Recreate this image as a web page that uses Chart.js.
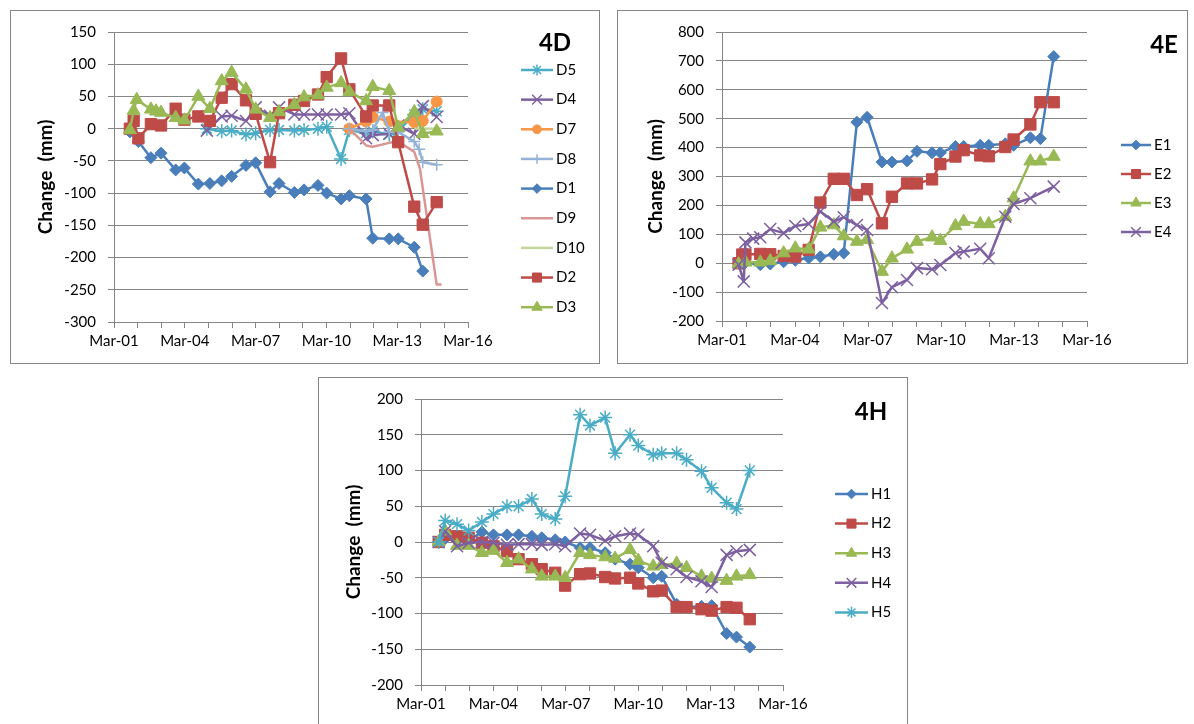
<!DOCTYPE html>
<html>
<head>
<meta charset="utf-8">
<script src="https://cdn.jsdelivr.net/npm/chart.js"></script>
<style>
html, body { margin: 0; padding: 0; background: #fff; width: 1194px; height: 724px; overflow: hidden; }
.panel { position: absolute; border: 1px solid #868686; box-sizing: border-box; background: #fff; overflow: hidden; }
.panel canvas { position: absolute; left: 0; top: 0; }
</style>
</head>
<body>
<div class="panel" style="left:10px;top:10px;width:590px;height:354px"><canvas id="c4d" width="588" height="352"></canvas></div>
<div class="panel" style="left:617px;top:10px;width:571px;height:354px"><canvas id="c4e" width="569" height="352"></canvas></div>
<div class="panel" style="left:318px;top:377px;width:590px;height:360px"><canvas id="c4h" width="588" height="358"></canvas></div>
<script>
// ---- panel 4D (dates as decimal years, values in mm) ----
const d5Dates = [2005.10, 2005.73, 2006.15, 2006.76, 2007.17, 2007.78, 2008.16, 2008.81, 2009.22, 2009.81, 2010.18, 2010.79, 2011.14, 2011.85, 2012.13, 2012.83, 2013.21, 2013.89, 2014.25, 2014.84];
const d5Values = [0, -4, -3, -9, -7, -2, -2, -3, -2, 0, 3, -47, -2, -7, -4, -9, -4, 22, 30, 27];
const d4Dates = [2005.10, 2005.73, 2006.15, 2006.76, 2007.17, 2007.78, 2008.16, 2008.81, 2009.22, 2009.81, 2010.18, 2010.79, 2011.14, 2011.85, 2012.13, 2012.83, 2013.21, 2013.89, 2014.25, 2014.84];
const d4Values = [-3, 19, 20, 12, 33, 20, 33, 22, 22, 22, 22, 22, 24, -15, -10, -8, 5, -8, 35, 18];
const d7Dates = [2011.14, 2011.85, 2012.13, 2012.83, 2013.89, 2014.25, 2014.84];
const d7Values = [0, 11, 18, 11, 10, 12, 42];
const d8Dates = [2011.14, 2011.85, 2012.13, 2012.55, 2012.83, 2013.21, 2013.89, 2014.10, 2014.25, 2014.84];
const d8Values = [0, -4, -2, 25, -5, -5, -20, -32, -52, -56];
const d1Dates = [2001.84, 2002.20, 2002.73, 2003.16, 2003.78, 2004.15, 2004.74, 2005.23, 2005.73, 2006.15, 2006.76, 2007.17, 2007.78, 2008.16, 2008.81, 2009.22, 2009.81, 2010.18, 2010.79, 2011.14, 2011.85, 2012.13, 2012.83, 2013.21, 2013.89, 2014.25];
const d1Values = [-5, -20, -45, -38, -64, -61, -86, -85, -81, -74, -57, -53, -98, -85, -99, -95, -88, -100, -109, -104, -109, -170, -171, -171, -184, -221];
const d9Dates = [2011.14, 2011.85, 2012.13, 2012.83, 2013.21, 2013.89, 2014.13, 2014.84, 2015.05];
const d9Values = [0, -26, -28, -22, -20, -36, -62, -242, -242];
const d10Dates = [2013.89, 2014.25, 2014.84, 2015.05];
const d10Values = [0, 0, 0, 0];
const d2Dates = [2001.84, 2002.00, 2002.20, 2002.73, 2003.16, 2003.78, 2004.15, 2004.74, 2005.23, 2005.73, 2006.15, 2006.76, 2007.17, 2007.78, 2008.16, 2008.81, 2009.22, 2009.81, 2010.18, 2010.79, 2011.14, 2011.85, 2012.13, 2012.83, 2013.21, 2013.89, 2014.25, 2014.84];
const d2Values = [0, 12, -15, 7, 5, 31, 14, 19, 12, 48, 69, 44, 23, -52, 24, 37, 43, 53, 80, 109, 61, 19, 36, 36, -21, -121, -149, -114];
const d3Dates = [2001.84, 2002.00, 2002.13, 2002.73, 2002.95, 2003.16, 2003.78, 2004.15, 2004.74, 2005.23, 2005.73, 2006.15, 2006.76, 2007.17, 2007.78, 2008.16, 2008.81, 2009.22, 2009.81, 2010.18, 2010.79, 2011.14, 2011.85, 2012.13, 2012.83, 2013.21, 2013.89, 2014.25, 2014.84];
const d3Values = [-2, 28, 45, 30, 27, 25, 17, 13, 50, 31, 74, 87, 61, 30, 17, 26, 37, 49, 52, 64, 71, 57, 43, 65, 59, 2, 26, -8, -4];

// ---- panel 4E ----
const eDates = [2001.85, 2002.13, 2002.74, 2003.15, 2003.70, 2004.18, 2004.73, 2005.21, 2005.76, 2006.17, 2006.71, 2007.13, 2007.74, 2008.15, 2008.77, 2009.18, 2009.80, 2010.14, 2010.76, 2011.10, 2011.78, 2012.13, 2012.81, 2013.15, 2013.84, 2014.25, 2014.80];
const e1Values = [0, 2, -5, -3, 5, 10, 18, 22, 31, 35, 488, 505, 350, 350, 354, 387, 382, 382, 404, 404, 408, 408, 413, 408, 434, 431, 715];
const e2Dates = [2001.85, 2002.00, 2002.13, 2002.74, 2003.15, 2003.70, 2004.18, 2004.73, 2005.21, 2005.76, 2006.17, 2006.71, 2007.13, 2007.74, 2008.15, 2008.77, 2009.18, 2009.80, 2010.14, 2010.76, 2011.10, 2011.78, 2012.13, 2012.81, 2013.15, 2013.84, 2014.25, 2014.80];
const e2Values = [0, 30, 30, 32, 31, 25, 23, 46, 210, 292, 292, 236, 256, 138, 230, 276, 276, 290, 343, 369, 391, 373, 370, 402, 428, 480, 557, 557];
const e3Values = [-3, 3, 3, 8, 35, 52, 48, 124, 132, 94, 75, 81, -29, 17, 48, 75, 90, 78, 129, 144, 136, 136, 161, 225, 353, 353, 369];
const e4Dates = [2001.85, 2002.06, 2002.13, 2002.45, 2002.74, 2003.15, 2003.70, 2004.18, 2004.73, 2005.21, 2005.76, 2006.17, 2006.71, 2007.13, 2007.74, 2008.15, 2008.77, 2009.18, 2009.80, 2010.14, 2010.76, 2011.10, 2011.78, 2012.13, 2012.81, 2013.15, 2013.84, 2014.80];
const e4Values = [-5, -63, 72, 85, 90, 118, 104, 129, 136, 179, 144, 159, 132, 115, -138, -83, -58, -17, -21, -6, 35, 40, 50, 17, 161, 205, 225, 265];

// ---- panel 4H ----
const hDates = [2001.90, 2002.17, 2002.66, 2003.14, 2003.69, 2004.17, 2004.73, 2005.21, 2005.76, 2006.17, 2006.73, 2007.14, 2007.76, 2008.17, 2008.80, 2009.21, 2009.83, 2010.17, 2010.79, 2011.14, 2011.76, 2012.17, 2012.79, 2013.21, 2013.83, 2014.24, 2014.79];
const h1Values = [0, 5, 3, 2, 14, 10, 10, 10, 8, 6, 3, 0, -8, -8, -15, -24, -31, -36, -50, -48, -87, -91, -90, -89, -128, -133, -147];
const h2Values = [0, 10, 8, 6, -1, -6, -13, -24, -31, -38, -43, -61, -45, -44, -49, -51, -50, -58, -69, -68, -91, -91, -94, -96, -91, -92, -108];
const h3Values = [0, 15, -5, -5, -15, -12, -29, -24, -38, -48, -48, -50, -15, -18, -21, -23, -11, -26, -34, -32, -30, -36, -48, -51, -54, -48, -46];
const h4Values = [0, 15, -6, -1, 0, -1, -4, -3, -3, -4, -3, -6, 12, 10, 2, 8, 12, 10, -6, -29, -38, -49, -55, -63, -18, -13, -11];
const h5Values = [0, 30, 25, 16, 28, 39, 50, 50, 60, 39, 32, 64, 178, 163, 174, 124, 150, 135, 122, 124, 124, 115, 99, 76, 55, 46, 100];

const FONT = "Lato, 'Open Sans', sans-serif";
const GRID = '#868686';

// excel-like series looks
const LOOK = {
    blue:       {color: '#4A7EBB', marker: 'rectRot',  r: 6,   bw: 1},
    red:        {color: '#BE4B48', marker: 'rect',     r: 8,   bw: 1},
    green:      {color: '#98B954', marker: 'triangle', r: 7.5, bw: 1},
    purple:     {color: '#7D60A0', marker: 'crossRot', r: 8.5, bw: 1.5},
    teal:       {color: '#4BACC6', marker: 'star',     r: 7,   bw: 1.5},
    orange:     {color: '#F79646', marker: 'circle',   r: 5.5, bw: 1},
    lightblue:  {color: '#95B3D7', marker: 'cross',    r: 6,   bw: 1.5},
    pink:       {color: '#D99694', marker: false,      r: 0,   bw: 0},
    lightgreen: {color: '#C3D69B', marker: false,      r: 0,   bw: 0}
};

function makeDataset(label, dates, values, look, idx, count) {
    const s = LOOK[look];
    return {
        label: label,
        data: dates.map((d, i) => ({x: d, y: values[i]})),
        borderColor: s.color,
        backgroundColor: s.color,
        borderWidth: 2.5,
        borderJoinStyle: 'round',
        tension: 0,
        pointStyle: s.marker,
        pointRadius: s.r,
        pointBackgroundColor: s.color,
        pointBorderColor: s.color,
        pointBorderWidth: s.bw,
        pointHoverRadius: s.r,
        order: count - idx   // later series sit on top, like excel
    };
}

// draws the panel tag (4D...) and the excel style legend on the right
const panelLegend = {
    id: 'panelLegend',
    afterDraw(chart, args, opts) {
        const ctx = chart.ctx;
        ctx.save();
        ctx.fillStyle = '#000';
        ctx.textBaseline = 'middle';
        ctx.textAlign = 'center';
        ctx.font = 'bold 24px ' + FONT;
        ctx.fillText(opts.title, opts.titleX, opts.titleY);
        ctx.textAlign = 'left';
        ctx.font = '15px ' + FONT;
        chart.data.datasets.forEach(function (ds, i) {
            const y = opts.top + i * opts.step;
            ctx.strokeStyle = ds.borderColor;
            ctx.lineWidth = 2.5;
            ctx.beginPath();
            ctx.moveTo(opts.x1, y);
            ctx.lineTo(opts.x2, y);
            ctx.stroke();
            if (ds.pointStyle && Chart.helpers && Chart.helpers.drawPoint) {
                ctx.fillStyle = ds.pointBackgroundColor;
                ctx.strokeStyle = ds.pointBorderColor;
                ctx.lineWidth = ds.pointBorderWidth;
                Chart.helpers.drawPoint(ctx, {
                    pointStyle: ds.pointStyle, radius: ds.pointRadius * 0.8,
                    rotation: 0, borderWidth: ds.pointBorderWidth
                }, (opts.x1 + opts.x2) / 2, y);
            }
            ctx.fillStyle = '#000';
            ctx.fillText(ds.label, opts.textX, y);
        });
        ctx.restore();
    }
};

function buildChart(id, datasets, yMin, yMax, yStep, box, legend) {
    return new Chart(document.getElementById(id), {
        type: 'line',
        data: {datasets: datasets},
        plugins: [panelLegend],
        options: {
            responsive: false,
            animation: false,
            events: [],
            layout: {padding: {left: 0, top: box.top, right: box.right, bottom: 0}},
            plugins: {
                legend: {display: false},
                tooltip: {enabled: false},
                panelLegend: legend
            },
            scales: {
                x: {
                    type: 'linear',
                    min: 2001.167,
                    max: 2016.167,
                    afterBuildTicks: function (axis) {
                        const t = [];
                        for (let k = 0; k <= 15; k++) t.push({value: 2001.167 + k});
                        axis.ticks = t;
                    },
                    afterFit: function (axis) { axis.height = box.xHeight; },
                    ticks: {
                        autoSkip: false, maxRotation: 0, minRotation: 0, padding: 4,
                        color: '#000', font: {family: FONT, size: 15},
                        callback: function (v) {
                            const yr = Math.round(v - 0.167);
                            if ((yr - 2001) % 3 !== 0) return '';
                            return 'Mar-' + String(yr % 100).padStart(2, '0');
                        }
                    },
                    grid: {drawOnChartArea: false, color: GRID, tickLength: 6},
                    border: {color: GRID}
                },
                y: {
                    min: yMin,
                    max: yMax,
                    afterFit: function (axis) { axis.width = box.left; },
                    ticks: {stepSize: yStep, padding: 12, color: '#000', font: {family: FONT, size: 15}},
                    grid: {color: GRID, tickLength: 6},
                    border: {color: GRID},
                    title: {
                        display: true, text: 'Change  (mm)', color: '#000',
                        font: {family: FONT, size: 19, weight: 'bold'},
                        padding: {top: box.titlePad, bottom: 0}
                    }
                }
            }
        }
    });
}

const set4d = [
    ['D5', d5Dates, d5Values, 'teal'],
    ['D4', d4Dates, d4Values, 'purple'],
    ['D7', d7Dates, d7Values, 'orange'],
    ['D8', d8Dates, d8Values, 'lightblue'],
    ['D1', d1Dates, d1Values, 'blue'],
    ['D9', d9Dates, d9Values, 'pink'],
    ['D10', d10Dates, d10Values, 'lightgreen'],
    ['D2', d2Dates, d2Values, 'red'],
    ['D3', d3Dates, d3Values, 'green']
];
const set4e = [
    ['E1', eDates, e1Values, 'blue'],
    ['E2', e2Dates, e2Values, 'red'],
    ['E3', eDates, e3Values, 'green'],
    ['E4', e4Dates, e4Values, 'purple']
];
const set4h = [
    ['H1', hDates, h1Values, 'blue'],
    ['H2', hDates, h2Values, 'red'],
    ['H3', hDates, h3Values, 'green'],
    ['H4', hDates, h4Values, 'purple'],
    ['H5', hDates, h5Values, 'teal']
];
function toDatasets(list) {
    return list.map((s, i) => makeDataset(s[0], s[1], s[2], s[3], i, list.length));
}

buildChart('c4d', toDatasets(set4d), -300, 150, 50,
    {left: 103, top: 20, right: 131, xHeight: 41, titlePad: 23},
    {title: '4D', titleX: 544, titleY: 32, x1: 510, x2: 542, textX: 545, top: 59, step: 29.65});

buildChart('c4e', toDatasets(set4e), -200, 800, 100,
    {left: 104, top: 20, right: 100, xHeight: 42, titlePad: 26},
    {title: '4E', titleX: 546, titleY: 34, x1: 503, x2: 533, textX: 536, top: 134, step: 29});

buildChart('c4h', toDatasets(set4h), -200, 200, 50,
    {left: 102, top: 19, right: 124, xHeight: 51, titlePad: 23},
    {title: '4H', titleX: 552, titleY: 34, x1: 516, x2: 549, textX: 552, top: 116, step: 29.6});
</script>
</body>
</html>
